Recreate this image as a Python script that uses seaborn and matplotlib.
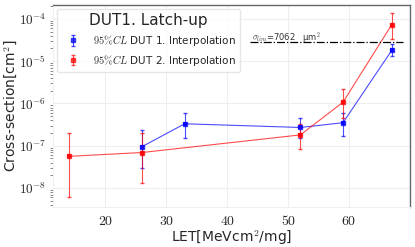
import numpy as np
import pandas as pd
import matplotlib
matplotlib.use("Agg")
import matplotlib.pyplot as plt
from matplotlib.ticker import FuncFormatter, LogLocator, FixedLocator
import seaborn as sns

# DUT 1 latch-up cross-section
let_dut1 = [26, 33, 52, 59, 67]
xs_dut1 = [0.95e-7, 3.3e-7, 2.7e-7, 3.5e-7, 1.8e-5]
lo_dut1 = [3.0e-8, 1.55e-7, 1.5e-7, 1.7e-7, 1.3e-5]
hi_dut1 = [2.3e-7, 6.1e-7, 4.6e-7, 6.0e-7, 2.6e-5]

# DUT 2 latch-up cross-section
let_dut2 = [14, 26, 52, 59, 67]
xs_dut2 = [5.6e-8, 6.9e-8, 1.8e-7, 1.07e-6, 7.3e-5]
lo_dut2 = [6.1e-9, 1.3e-8, 8.5e-8, 4.5e-7, 3.3e-5]
hi_dut2 = [2.0e-7, 2.0e-7, 3.2e-7, 2.2e-6, 1.4e-4]

sigma_lim = 2.9e-5
sigma_let = [43.7, 68.8]

sns.set_style("whitegrid")
plt.rcParams["mathtext.fontset"] = "cm"
plt.rcParams["font.family"] = ["DejaVu Sans"]

df1 = pd.DataFrame({"LET": let_dut1, "xs": xs_dut1})
df2 = pd.DataFrame({"LET": let_dut2, "xs": xs_dut2})

fig = plt.figure(figsize=(4.15, 2.47), dpi=100)
ax = fig.add_axes([0.128, 0.162, 0.86, 0.818])

ax.set_yscale("log")
sns.lineplot(data=df1, x="LET", y="xs", ax=ax, color="blue", lw=0.8, alpha=0.7,
             marker="s", markersize=3, markeredgewidth=0, legend=False)
sns.lineplot(data=df2, x="LET", y="xs", ax=ax, color="red", lw=0.8, alpha=0.7,
             marker="s", markersize=3, markeredgewidth=0, legend=False)

e1 = [np.array(xs_dut1) - np.array(lo_dut1), np.array(hi_dut1) - np.array(xs_dut1)]
e2 = [np.array(xs_dut2) - np.array(lo_dut2), np.array(hi_dut2) - np.array(xs_dut2)]
ax.errorbar(let_dut1, xs_dut1, yerr=e1, fmt="s", color="blue", ms=3, elinewidth=0.8,
            capsize=1.5, alpha=0.7, label=r"$95\%CL$ DUT 1. Interpolation")
ax.errorbar(let_dut2, xs_dut2, yerr=e2, fmt="s", color="red", ms=3, elinewidth=0.8,
            capsize=1.5, alpha=0.7, label=r"$95\%CL$ DUT 2. Interpolation")

ax.plot(sigma_let, [sigma_lim, sigma_lim], color="black", ls="-.", lw=0.9)
ax.text(sigma_let[0] + 0.4, sigma_lim * 1.1, r"$\sigma_{lim}$=7062   μm$^2$",
        fontsize=6, color="#333333")

ax.set_xlim(11.4, 70)
ax.set_ylim(10 ** -8.45, 10 ** -3.67)
ax.xaxis.set_major_locator(FixedLocator([20, 30, 40, 50, 60]))
ax.xaxis.set_major_formatter(FuncFormatter(lambda v, p: r"$%d$" % v))
ax.yaxis.set_major_locator(LogLocator(base=10))
ax.yaxis.set_major_formatter(FuncFormatter(lambda v, p: r"$10^{%d}$" % round(np.log10(v))))
ax.yaxis.set_minor_locator(LogLocator(base=10, subs=np.arange(2, 10)))
ax.yaxis.set_minor_formatter(FuncFormatter(lambda v, p: ""))
ax.tick_params(axis="y", which="major", length=4, width=0.6, color="#555555", labelsize=9.5, pad=1)
ax.tick_params(axis="y", which="minor", length=2, width=0.5, color="#555555", left=True)
ax.tick_params(axis="x", which="major", length=4, width=0.6, color="#999999", labelsize=10, pad=1)

ax.grid(True, which="major", color="#eeeeee", lw=0.8)
ax.grid(False, which="minor")
for s in ["left", "bottom"]:
    ax.spines[s].set_color("#f0f0f0")
for s in ["top", "right"]:
    ax.spines[s].set_color("#666666")
    ax.spines[s].set_linewidth(1.0)

ax.set_xlabel(r"LET[MeVcm$^2$/mg]", fontsize=10, labelpad=0)
ax.set_ylabel(r"Cross-section[cm$^2$]", fontsize=10, labelpad=0)

leg = ax.legend(loc="upper left", title="DUT1. Latch-up", fontsize=7.5,
                title_fontsize=11, frameon=True, borderaxespad=0.4,
                handlelength=2.2, labelspacing=0.45)
leg.get_frame().set_edgecolor("#e0e0e0")

plt.savefig("out.png", dpi=100)
